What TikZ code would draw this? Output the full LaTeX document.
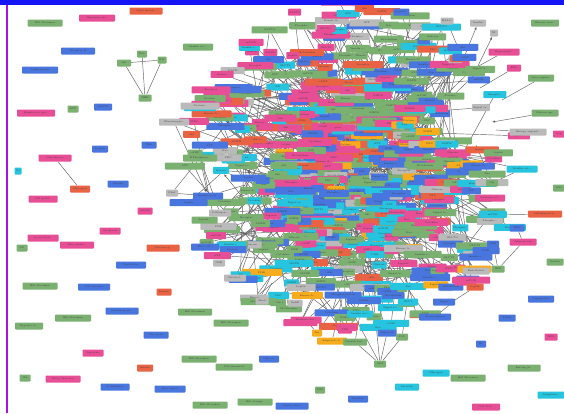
\documentclass[tikz,border=0pt]{standalone}
\usetikzlibrary{arrows.meta}
\definecolor{cg}{RGB}{122,176,112}
\definecolor{cp}{RGB}{232,78,150}
\definecolor{cb}{RGB}{72,118,222}
\definecolor{co}{RGB}{234,98,68}
\definecolor{cc}{RGB}{38,196,222}
\definecolor{cgy}{RGB}{186,186,186}
\definecolor{cy}{RGB}{246,172,28}
\definecolor{topblue}{RGB}{20,20,245}
\definecolor{purp}{RGB}{165,20,230}
\pgfdeclarelayer{back}\pgfdeclarelayer{bg}\pgfsetlayers{back,bg,main}
\tikzset{
 box/.style={rectangle, rounded corners=0.8pt, inner sep=0.5pt, minimum height=7pt, font=\fontsize{2.4}{2.8}\selectfont, text=black!75},
 edge/.style={draw=black!62, line width=0.45pt},
 arr/.style={-{Latex[length=3pt,width=2.2pt]}},
}
\pgfmathdeclarerandomlist{colA}{{cp}{cp}{cp}{cp}{cp}{cp}{cg}{cg}{cg}{co}{co}{cc}{cb}{cgy}}
\pgfmathdeclarerandomlist{colB}{{cg}{cg}{cg}{cg}{cg}{cg}{cp}{cp}{cp}{cp}{cc}{cc}{cc}{cc}{cb}{cb}{cb}{co}{co}{cgy}{cgy}{cy}}
\pgfmathdeclarerandomlist{words}{{Kinase A\ldots}{Protein\ldots}{Insulin r\ldots}{Glucose}{ATP}{PI3K}{mTOR}{AMPK}{Phospho\ldots}{Receptor}{GLUT4}{Leptin}{Akt}{Ras}{MAPK}{Kinase}{Ligand\ldots}{cAMP}{PKC}{Signal tr\ldots}{Metabolism}{Cytokine}}
\begin{document}
\begin{tikzpicture}[x=1pt,y=-1pt]
\useasboundingbox (0,0) rectangle (564,413);
\begin{pgfonlayer}{back}
\fill[white] (0,0) rectangle (564,413);
\end{pgfonlayer}
% ---- dense core ----
\pgfmathsetseed{4242}
\foreach \i in {1,...,230}{
  \pgfmathsetmacro\r{sqrt(rnd)}
  \pgfmathsetmacro\th{360*rnd}
  \pgfmathsetmacro\px{360+100*\r*cos(\th)}
  \pgfmathsetmacro\py{166+92*\r*sin(\th)}
  \pgfmathtruncatemacro\pk{and(\px<335,\py<150)}
  \ifnum\pk=1 \pgfmathrandomitem\col{colA}\else\pgfmathrandomitem\col{colB}\fi
  \pgfmathrandomitem\lbl{words}
  \pgfmathtruncatemacro\w{random(15,42)}
  \node[box,fill=\col,minimum width=\w pt] (m\i) at (\px,\py) {\lbl};
}
% ---- cluster ----
\pgfmathsetseed{12345}
\foreach \i in {1,...,480}{
  \pgfmathsetmacro\r{(\i/480)^0.7}
  \pgfmathsetmacro\th{360*rnd}
  \pgfmathsetmacro\px{352+170*\r*cos(\th)}
  \pgfmathsetmacro\py{166+165*\r*sin(\th)}
  \pgfmathtruncatemacro\pk{and(\px<335,\py<150)}
  \ifnum\pk=1 \pgfmathrandomitem\col{colA}\else\pgfmathrandomitem\col{colB}\fi
  \pgfmathrandomitem\lbl{words}
  \pgfmathtruncatemacro\w{random(13,40)}
  \node[box,fill=\col,minimum width=\w pt] (n\i) at (\px,\py) {\lbl};
}
% ---- peripheral nodes ----
\foreach \nm/\x/\y/\w/\c/\t in {
q1/45/23/35/cg/Bill Moorman,q2/97/18/36/cp/Hyperglycem\ldots,q3/146/11/33/co/Lipid metab\ldots,
q4/78/51/34/cb/Receptor B,q5/40/70/36/cb/Adipogenesis,q7/198/47/30/cg/Insulin sec\ldots,
q8/73/109/11/cg/ATP,q9/103/107/18/cb/GLUT2,q10/36/113/38/cp/Hepatocyte gro\ldots,
q11/100/149/16/cb/Leptin,q12/149/145/15/cb/PKA,q13/55/158/33/cp/Glucokinase,
q13b/80/189/20/co/Glycogen,q14/18/171/7/cc/Ca,q15/118/184/21/cb/Ghrelin,
q16/43/199/29/cp/Cell prolif\ldots,q17/145/211/15/cp/mTOR,q18/110/231/21/cp/Apoptosis,
q19/43/238/31/cp/Acetyl-CoA\ldots,q20/77/245/34/cp/Beta oxidat\ldots,q21/22/248/11/cg/NO,
q22/163/248/33/co/Gluconeog\ldots,q23/131/265/30/cb/Pancreatic,
t1/124/63/14/cg/Akt,t2/142/54/10/cg/Ras,t3/162/60/9/cg/Raf,t4/145/98/13/cg/MEK,
q24/40/286/35/cg/Bill Moorman,q25/94/287/32/cb/Cell survival,q26/164/292/15/co/Insulin,
q27/122/311/33/cb/Membrane pr\ldots,q28/195/312/34/cg/Bill Moorman,q29/73/318/36/cg/Bill Moorman,
q30/29/326/28/cg/Hypoxia fa\ldots,q31/156/335/25/cb/Glycolysis,q32/93/353/21/cp/Lipolysis,
q33/199/359/35/cg/Bill Moorman,q34/145/368/16/co/Amylin,q35/25/378/11/cg/IL6,
q36/63/379/35/cp/Fatty Cholester,q37/115/387/29/cb/IL Inhibitor,q38/170/389/31/cb/Beta signal,
q39/210/405/35/cg/Bill Moorman,q40/231/323/35/cg/Bill Moorman,q45/234/367/37/cg/Mitochondrial,
q44/269/359/20/cb/Glucose,q46/320/390/10/cg/FAS,q47/358/399/20/cb/Resistin,
q48/255/402/35/cg/Bile transp\ldots,q49/292/406/33/cb/Muscle fiber,
q41/262/301/13/cgy/Shod,q42/295/303/15/cgy/SubB,q43/306/320/31/cp/Hormone bin\ldots,
b1/317/333/10/cy/Ins,b2/332/341/30/cy/Adipocyte d\ldots,b3/345/330/14/cp/TNF,b4/355/342/24/cg/Growth fact\ldots,
b5/360/314/26/cc/Insulin rec\ldots,b6/343/295/37/cb/Phosphorylation,b7/387/333/19/cb/Kinase B,
b8/380/364/12/cg/Akt2,b9/402/337/12/cg/SOS,
r1/475/287/17/co/Leptin,r2/541/299/26/cb/Lipoprotein,r3/507/318/17/cb/PPAR,r4/551/337/13/cp/IRS1,
r5/481/344/10/cb/IR,r6/524/368/33/cg/Fasting pl\ldots,r7/436/373/27/cc/Glucagon,r8/468/378/35/cg/Bill Moorman,
r9/407/387/24/cc/Incretin,r10/551/395/27/cc/Adipokine\ldots,r11/486/407/28/cp/Cell deat\ldots,
r12/435/317/32/cb/Transcription,r13/444/302/22/cb/Sugar,r14/408/302/20/cc/GLP1,
s1/545/113/27/cg/Glucose up\ldots,s2/528/132/37/cgy/Energy expend\ldots,s3/559/134/12/cp/Lep,
s4/522/169/31/cc/Insulin act\ldots,s5/492/183/12/cg/Gly,s6/559/188/12/cg/Obe,
s7/490/198/30/cp/Oxidative st\ldots,s8/545/214/34/co/Inflammation\ldots,s9/517/228/15/cb/ROS,
s10/493/244/12/cb/PKB,s11/523/242/27/cp/Adiponectin,s12/555/262/17/cg/Insulin,
s13/498/269/13/cg/IKK,s14/476/271/27/cgy/Endothelial,
u1/545/23/28/cg/Glucose tran\ldots,u2/478/23/16/cgy/Insulin,u3/447/21/13/cgy/HbA1c,
u4/494/33/8/cgy/IR,u5/504/52/31/cp/Hyperinsul\ldots,u6/514/68/14/cp/FFA,u7/541/78/26/cg/Gene expres\ldots,
L1/174/122/30/cgy/Gluconeogen\ldots,L2/200/158/34/cg/E.Phosphory\ldots,L3/172/193/12/cgy/Pdx1,
L4/208/196/30/cb/Insulin recep\ldots,L5/220/213/22/cgy/Pathogen\ldots,L6/205/247/28/cb/Beta cell\ldots,
L7/219/263/12/cgy/GSK,L8/235/278/22/cgy/Metabol\ldots}{
  \node[box,fill=\c,minimum width=\w pt] (\nm) at (\x,\y) {\t};
}
% free ends hidden in the cluster
\foreach \nm/\x/\y in {k1/272/283,k2/300/282,k3/372/285,k4/410/282,k5/492/122,k6/496/130,
k7/468/158,k8/476/145,k9/452/232,k10/458/72,k11/474/74,k12/468/72,k13/480/88,k14/502/100,
k15/452/262,k16/462/200,k17/250/150,k18/245/185,k19/252/240,k20/330/300,k21/455/300,
k23/470/215}{\coordinate (\nm) at (\x,\y);}
\begin{pgfonlayer}{bg}
\pgfmathsetseed{777}
\foreach \i in {120,...,480}{
  \pgfmathtruncatemacro\j{random(1,\i-1)}
  \pgfmathtruncatemacro\a{random(0,2)}
  \ifnum\a=0 \draw[edge,arr] (n\i) -- (n\j); \else \draw[edge] (n\i) -- (n\j); \fi
}
\foreach \i in {250,253,...,480}{
  \pgfmathtruncatemacro\j{random(1,230)}
  \draw[edge] (n\i) -- (m\j);
}
% periphery connectors
\draw[edge] (t1) -- (t3); \draw[edge] (t2) -- (t4); \draw[edge] (t1) -- (t4); \draw[edge] (t3) -- (t4);
\draw[edge] (q13) -- (q13b);
\draw[edge,arr] (k1) -- (q41); \draw[edge,arr] (k2) -- (q42);
\draw[edge] (q43) -- (k20); \draw[edge] (q43) -- (b1); \draw[edge] (b1) -- (b6);
\draw[edge] (b2) -- (b6); \draw[edge] (b3) -- (b5); \draw[edge] (b4) -- (b5); \draw[edge] (b5) -- (b6);
\draw[edge] (b8) -- (b4); \draw[edge] (b8) -- (b7); \draw[edge] (b8) -- (b9); \draw[edge] (b8) -- (k3);
\draw[edge] (b9) -- (b7); \draw[edge] (b9) -- (k4); \draw[edge] (b8) -- (b6); \draw[edge] (b7) -- (k3);
\draw[edge] (r12) -- (k21); \draw[edge] (r13) -- (k21); \draw[edge] (r14) -- (k4); \draw[edge] (r1) -- (k21);
\draw[edge,arr] (s1) -- (k5); \draw[edge] (s2) -- (k6);
\draw[edge] (s4) -- (s5); \draw[edge] (s4) -- (k7); \draw[edge,arr] (k8) -- (s5);
\draw[edge] (s7) -- (k16); \draw[edge] (s9) -- (s11); \draw[edge] (s10) -- (s13); \draw[edge] (s11) -- (s13);
\draw[edge] (s14) -- (s13); \draw[edge] (s13) -- (k9); \draw[edge] (s10) -- (k9); \draw[edge] (s14) -- (k15);
\draw[edge] (s8) -- (k23); \draw[edge] (s9) -- (k23);
\draw[edge,arr] (k10) -- (u2); \draw[edge,arr] (k11) -- (u4); \draw[edge] (u3) -- (k12);
\draw[edge] (u5) -- (k12); \draw[edge] (u6) -- (k13); \draw[edge] (u7) -- (k14);
\draw[edge,arr] (L1) -- (L4); \draw[edge] (L1) -- (k17); \draw[edge,arr] (L2) -- (L4);
\draw[edge] (L3) -- (L2); \draw[edge] (L3) -- (L4); \draw[edge] (L2) -- (k17); \draw[edge] (L4) -- (k18);
\draw[edge] (L5) -- (k18); \draw[edge,arr] (k19) -- (L6); \draw[edge,arr] (k19) -- (L7);
\draw[edge,arr] (k19) -- (L8); \draw[edge] (L5) -- (L2);
\end{pgfonlayer}
% frame
\fill[topblue] (0,0) rectangle (564,5);
\fill[purp] (5.5,5) rectangle (7.5,413);
\end{tikzpicture}
\end{document}
